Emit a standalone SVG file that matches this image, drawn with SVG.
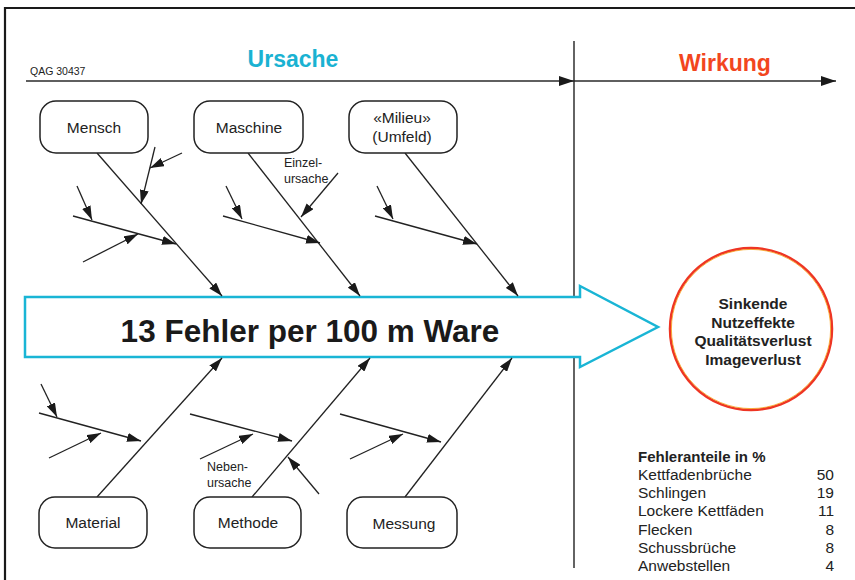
<svg xmlns="http://www.w3.org/2000/svg" width="855" height="580" viewBox="0 0 855 580">
<style>
.box{fill:#fff;stroke:#222;stroke-width:1.5}
.lbl{font-family:"Liberation Sans",Arial,sans-serif;font-size:15.5px;fill:#222;text-anchor:middle}
.small{font-family:"Liberation Sans",Arial,sans-serif;font-size:12.5px;fill:#222}
.ln{stroke:#222;stroke-width:1.3;fill:none;marker-end:url(#ah)}
.ax{stroke:#2a2a2a;stroke-width:1.5;fill:none;marker-end:url(#ax)}
.ct{font-family:"Liberation Sans",Arial,sans-serif;font-size:15.5px;font-weight:bold;fill:#222;text-anchor:middle}
.tb{font-family:"Liberation Sans",Arial,sans-serif;font-size:15.5px;fill:#222}
</style>
<defs>
<marker id="ah" viewBox="0 0 14 9" refX="14" refY="4.5" markerWidth="14" markerHeight="9" markerUnits="userSpaceOnUse" orient="auto"><path d="M0,0 L14,4.5 L0,9 z" fill="#1a1a1a"/></marker>
<marker id="ax" viewBox="0 0 15 10" refX="15" refY="5" markerWidth="15" markerHeight="10" markerUnits="userSpaceOnUse" orient="auto"><path d="M0,0 L15,5 L0,10 z" fill="#1a1a1a"/></marker>
</defs>
<rect width="855" height="580" fill="#fff"/>
<g id="frame">
<path d="M855,8 H5 V580" fill="none" stroke="#1a1a1a" stroke-width="2.2"/>
</g>
<g id="axis">
<line x1="26" y1="81" x2="574" y2="81" class="ax"/>
<line x1="574" y1="81" x2="836" y2="81" class="ax"/>
<line x1="574" y1="41" x2="574" y2="568" stroke="#222" stroke-width="1.4"/>
<text x="30" y="75" font-family="Liberation Sans,Arial,sans-serif" font-size="10.5" fill="#222">QAG 30437</text>
<text x="293" y="67" font-family="Liberation Sans,Arial,sans-serif" font-size="23" font-weight="bold" fill="#1ab2d2" text-anchor="middle">Ursache</text>
<text x="725" y="71" font-family="Liberation Sans,Arial,sans-serif" font-size="23" font-weight="bold" fill="#f2461e" text-anchor="middle">Wirkung</text>
</g>
<g id="effect">
<path d="M25,297 H580 V286 L658,327 L580,367 V357 H25 Z" fill="#fff" stroke="#19b5d5" stroke-width="2.5" stroke-linejoin="miter"/>
<text x="310" y="342" font-family="Liberation Sans,Arial,sans-serif" font-size="31.5" font-weight="bold" fill="#1a1a1a" text-anchor="middle">13 Fehler per 100 m Ware</text>
</g>
<g id="connectors">
<line x1="97" y1="153" x2="222" y2="296" class="ln"/>
<line x1="248" y1="153" x2="360" y2="296" class="ln"/>
<line x1="405" y1="153" x2="518" y2="296" class="ln"/>
<line x1="97" y1="497" x2="222" y2="358" class="ln"/>
<line x1="252" y1="497" x2="370" y2="358" class="ln"/>
<line x1="405" y1="497" x2="512" y2="358" class="ln"/>
<line x1="73" y1="216" x2="176" y2="244" class="ln"/>
<line x1="77" y1="186" x2="92" y2="220" class="ln"/>
<line x1="83" y1="262" x2="138" y2="234" class="ln"/>
<line x1="155" y1="147" x2="141" y2="204" class="ln"/>
<line x1="182" y1="153" x2="150" y2="168" class="ln"/>
<line x1="223" y1="216" x2="320" y2="243" class="ln"/>
<line x1="226" y1="186" x2="242" y2="219" class="ln"/>
<line x1="338" y1="173" x2="301" y2="217" class="ln"/>
<line x1="375" y1="216" x2="477" y2="244" class="ln"/>
<line x1="377" y1="186" x2="393" y2="219" class="ln"/>
<line x1="39" y1="413" x2="141" y2="441" class="ln"/>
<line x1="41" y1="384" x2="57" y2="417" class="ln"/>
<line x1="49" y1="458" x2="101" y2="433" class="ln"/>
<line x1="190" y1="414" x2="292" y2="441" class="ln"/>
<line x1="200" y1="459" x2="253" y2="434" class="ln"/>
<line x1="319" y1="494" x2="288" y2="457" class="ln"/>
<line x1="340" y1="414" x2="441" y2="442" class="ln"/>
<line x1="350" y1="459" x2="403" y2="434" class="ln"/>
<text class="small" x="284" y="167">Einzel-</text>
<text class="small" x="284" y="183">ursache</text>
<text class="small" x="207" y="471">Neben-</text>
<text class="small" x="207" y="487">ursache</text>
</g>
<g id="mensch"><rect class="box" x="40" y="101" width="108" height="52" rx="16"/><text class="lbl" x="94" y="133">Mensch</text></g>
<g id="maschine"><rect class="box" x="194" y="101" width="109" height="52" rx="16"/><text class="lbl" x="249" y="133">Maschine</text></g>
<g id="milieu"><rect class="box" x="349" y="101" width="108" height="52" rx="16"/><text class="lbl" x="402" y="123" font-size="15">«Milieu»</text><text class="lbl" x="402" y="142">(Umfeld)</text></g>
<g id="material"><rect class="box" x="39" y="497" width="108" height="51" rx="16"/><text class="lbl" x="93" y="528">Material</text></g>
<g id="methode"><rect class="box" x="194" y="497" width="107" height="51" rx="16"/><text class="lbl" x="248" y="528">Methode</text></g>
<g id="messung"><rect class="box" x="347" y="497" width="110" height="51" rx="16"/><text class="lbl" x="404" y="529">Messung</text></g>
<g id="wirkung-circle">
<circle cx="751" cy="329" r="81" fill="#fff" stroke="#ee3524" stroke-width="2.5"/>
<circle cx="751" cy="329" r="79.6" fill="none" stroke="#f7a21b" stroke-width="0.8"/>
<text class="ct" x="753" y="309">Sinkende</text>
<text class="ct" x="753" y="328">Nutzeffekte</text>
<text class="ct" x="753" y="346">Qualitätsverlust</text>
<text class="ct" x="753" y="365">Imageverlust</text>
</g>
<g id="table">
<text x="638" y="462" font-family="Liberation Sans,Arial,sans-serif" font-size="15" font-weight="bold" fill="#222">Fehleranteile in %</text>
<text class="tb" x="638" y="480">Kettfadenbrüche</text>
<text class="tb" x="638" y="498">Schlingen</text>
<text class="tb" x="638" y="516">Lockere Kettfäden</text>
<text class="tb" x="638" y="535">Flecken</text>
<text class="tb" x="638" y="553">Schussbrüche</text>
<text class="tb" x="638" y="571">Anwebstellen</text>
<g text-anchor="end">
<text class="tb" x="834" y="480">50</text>
<text class="tb" x="834" y="498">19</text>
<text class="tb" x="834" y="516">11</text>
<text class="tb" x="834" y="535">8</text>
<text class="tb" x="834" y="553">8</text>
<text class="tb" x="834" y="571">4</text>
</g>
</g>
</svg>
